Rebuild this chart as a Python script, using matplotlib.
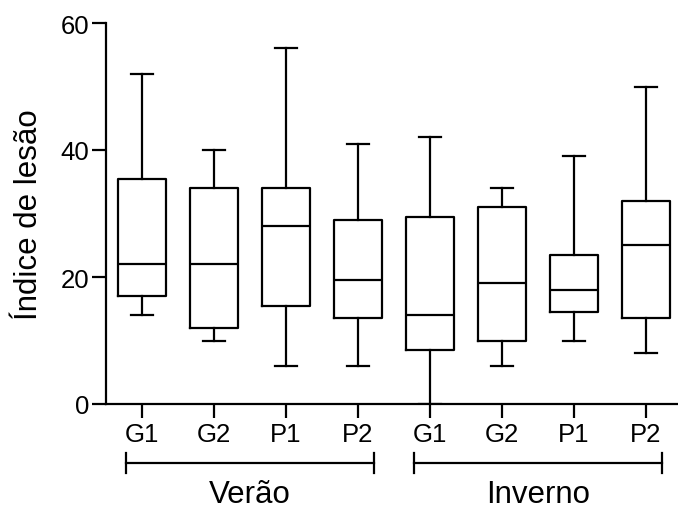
import matplotlib
matplotlib.use("Agg")
import matplotlib.pyplot as plt
import matplotlib.transforms as mtransforms

plt.rcParams['font.family'] = ['Liberation Sans', 'DejaVu Sans']

groups = ["G1", "G2", "P1", "P2", "G1", "G2", "P1", "P2"]
seasons = ["Verão", "Inverno"]
whislo = [14, 10, 6, 6, 0, 6, 10, 8]
q1 = [17, 12, 15.5, 13.5, 8.5, 10, 14.5, 13.5]
med = [22, 22, 28, 19.5, 14, 19, 18, 25]
q3 = [35.5, 34, 34, 29, 29.5, 31, 23.5, 32]
whishi = [52, 40, 56, 41, 42, 34, 39, 50]

stats = [dict(whislo=a, q1=b, med=c, q3=d, whishi=e, label=g)
         for a, b, c, d, e, g in zip(whislo, q1, med, q3, whishi, groups)]

fig = plt.figure(figsize=(6.78, 5.10), dpi=100)
ax = fig.add_axes([106/678, 105/510, 576/678, 381/510])

lw = 1.6
ax.bxp(stats, positions=range(1, 9), widths=0.667, showfliers=False,
       boxprops=dict(color='black', linewidth=lw),
       medianprops=dict(color='black', linewidth=lw),
       whiskerprops=dict(color='black', linewidth=lw),
       capprops=dict(color='black', linewidth=lw),
       capwidths=0.3)

ax.set_xlim(0.5, 8.5)
ax.set_ylim(0, 60)
ax.set_yticks([0, 20, 40, 60])
ax.set_xticks(range(1, 9))
ax.set_xticklabels(groups)
for s in ['top', 'right']:
    ax.spines[s].set_visible(False)
for s in ['left', 'bottom']:
    ax.spines[s].set_linewidth(1.6)
ax.spines['bottom'].set_clip_on(False)
ax.tick_params(axis='both', length=10, width=1.6, labelsize=18.5, pad=3)
ax.tick_params(axis='y', pad=2)
ax.set_ylabel("Índice de lesão", fontsize=22.5, labelpad=12)

trans = mtransforms.blended_transform_factory(ax.transData, fig.transFigure)
yb = (510 - 464) / 510
hc = 10 / 510
for i, name in enumerate(seasons):
    c = 2.5 + 4 * i
    x0, x1 = c - 1.72, c + 1.72
    ax.plot([x0, x1], [yb, yb], color='black', lw=1.6, transform=trans, clip_on=False)
    for xx in (x0, x1):
        ax.plot([xx, xx], [yb - hc, yb + hc], color='black', lw=1.6, transform=trans, clip_on=False)
    ax.text(c, 7 / 510, name, transform=trans, ha='center', va='baseline', fontsize=22.5)

fig.savefig("out.png", dpi=100)
